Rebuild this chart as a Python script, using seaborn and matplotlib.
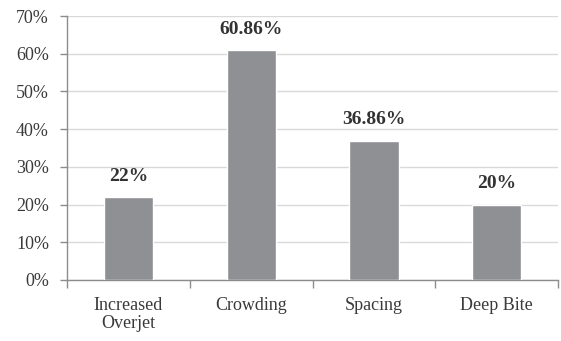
import matplotlib
matplotlib.use("Agg")
import matplotlib.pyplot as plt
from matplotlib.ticker import FixedLocator, PercentFormatter
import seaborn as sns
import pandas as pd

categories = ["Increased\nOverjet", "Crowding", "Spacing", "Deep Bite"]
values = [22, 60.86, 36.86, 20]
value_labels = ["22%", "60.86%", "36.86%", "20%"]

sns.set_theme(style="white")
plt.rcParams["font.family"] = ["Liberation Serif", "DejaVu Serif"]

df = pd.DataFrame({"category": categories, "value": values})

fig = plt.figure(figsize=(5.61, 3.41), dpi=100)
ax = fig.add_axes([0.1194, 0.179, 0.8756, 0.774])

sns.barplot(data=df, x="category", y="value", color="#8f9094",
            saturation=1, width=0.4, ax=ax, zorder=3)

ax.set_ylim(0, 70)
ax.set_xlim(-0.5, len(categories) - 0.5)
ax.set_yticks(range(0, 71, 10))
ax.yaxis.set_major_formatter(PercentFormatter(decimals=0))
ax.set_xlabel("")
ax.set_ylabel("")

ax.grid(axis="y", color="#d9d9d9", linewidth=1, zorder=0)
ax.set_axisbelow(True)

for side in ["top", "right"]:
    ax.spines[side].set_visible(False)
for side in ["left", "bottom"]:
    ax.spines[side].set_color("#8c8c8c")
    ax.spines[side].set_linewidth(1)

# category separators as minor ticks on the x axis
ax.xaxis.set_minor_locator(FixedLocator([i - 0.5 for i in range(len(categories) + 1)]))
ax.tick_params(axis="x", which="major", length=0, pad=12, labelsize=13, labelcolor="#3a3a3a")
ax.tick_params(axis="x", which="minor", bottom=True, length=6, width=1, color="#8c8c8c")
ax.tick_params(axis="y", which="major", left=True, length=5, width=1, color="#8c8c8c",
               pad=8, labelsize=13, labelcolor="#3a3a3a")
for lab in ax.get_xticklabels():
    lab.set_linespacing(1.1)

for i, (v, lab) in enumerate(zip(values, value_labels)):
    ax.annotate(lab, xy=(i, v), xytext=(0, 9), textcoords="offset points",
                ha="center", va="bottom", fontsize=14, fontweight="bold", color="#333333")

fig.savefig("out.png", dpi=100)
